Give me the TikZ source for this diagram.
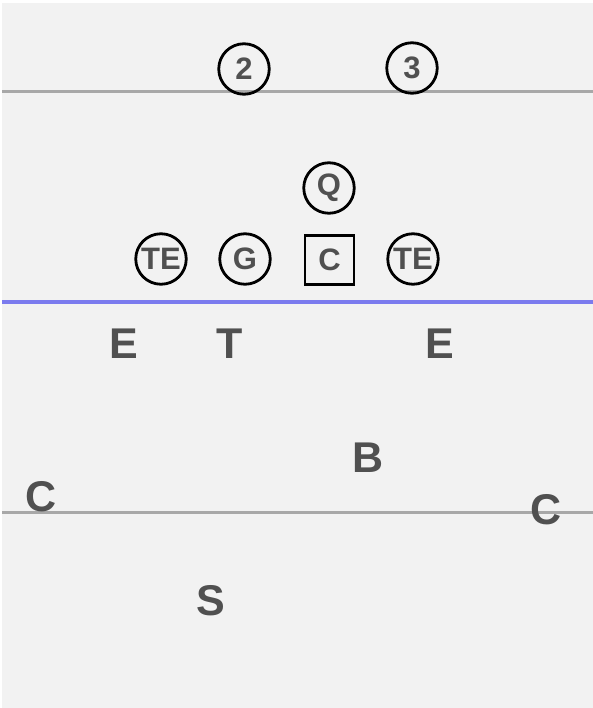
\documentclass[tikz,border=0pt]{standalone}
\usepackage{fontspec}
\setmainfont{Liberation Sans}
\definecolor{bgc}{HTML}{F2F2F2}
\definecolor{txt}{HTML}{505050}
\definecolor{gline}{HTML}{A8A8A8}
\definecolor{bline}{HTML}{7B7BEE}
\tikzset{
  player/.style={circle,draw=black,line width=2.8pt,minimum size=50.5pt,inner sep=0pt,
    text=txt,font=\fontsize{31}{31}\selectfont\bfseries},
  center/.style={rectangle,draw=black,line width=2.8pt,minimum size=49pt,inner sep=0pt,
    text=txt,font=\fontsize{31}{31}\selectfont\bfseries},
  defender/.style={inner sep=0pt,text=txt,font=\fontsize{43}{43}\selectfont\bfseries},
  greyline/.style={draw=gline,line width=3pt},
  blueline/.style={draw=bline,line width=4.5pt}
}
\begin{document}
\begin{tikzpicture}[x=1pt,y=-1pt]
\fill[white] (0,0) rectangle (593,708);
\fill[bgc] (2,3) rectangle (593,708);
\useasboundingbox (0,0) rectangle (593,708);
% lines
\coordinate (l1a) at (2,92); \coordinate (l1b) at (593,92);
\coordinate (l2a) at (2,302); \coordinate (l2b) at (593,302);
\coordinate (l3a) at (2,512); \coordinate (l3b) at (593,512);
\draw[greyline] (l1a) -- (l1b);
\draw[blueline] (l2a) -- (l2b);
\draw[greyline] (l3a) -- (l3b);
% offense
\node[player] (p2) at (244,69) {2};
\node[player] (p3) at (412,68) {3};
\node[player] (q) at (329,188) {Q};
\node[player] (te1) at (161,259) {TE};
\node[player] (g) at (245,259) {G};
\node[center] (c) at (329.5,260) {C};
\node[player] (te2) at (413,259) {TE};
% defense
\node[defender] (e1) at (124,344) {E};
\node[defender] (t) at (230,344) {T};
\node[defender] (e2) at (439.5,344) {E};
\node[defender] (b) at (368,458) {B};
\node[defender] (c1) at (41.5,496.5) {C};
\node[defender] (c2) at (546,509.5) {C};
\node[defender] (s) at (211,601) {S};
\end{tikzpicture}
\end{document}
